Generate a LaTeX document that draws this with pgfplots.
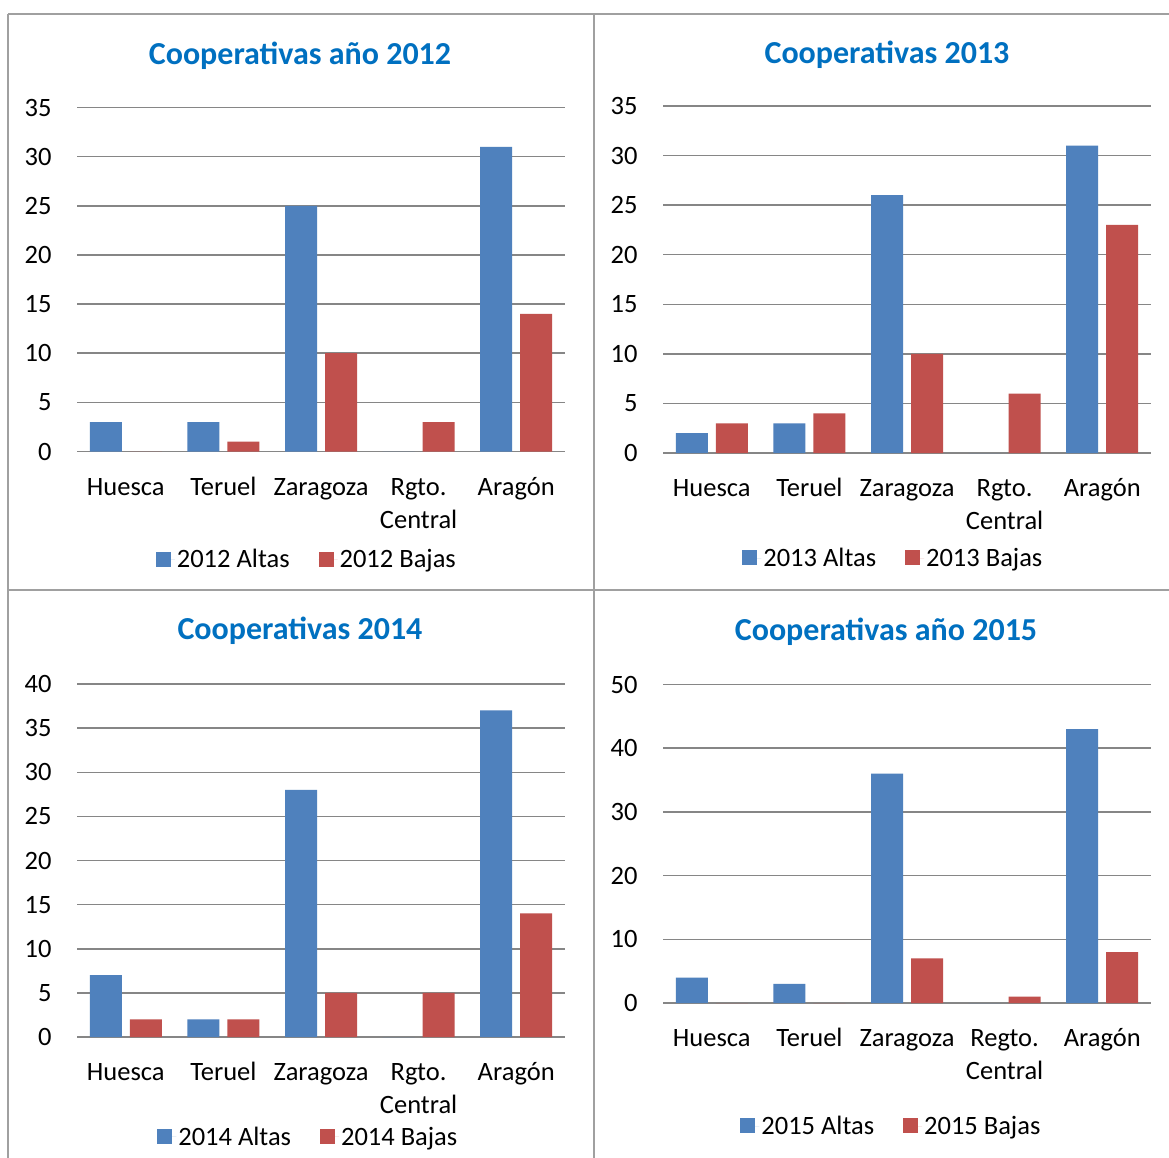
\documentclass[border=0pt]{standalone}
\usepackage{fontspec}
\setmainfont{Carlito}
\usepackage{pgfplots}
\pgfplotsset{compat=1.18}
\definecolor{titleblue}{HTML}{0070C0}
\definecolor{barblue}{HTML}{4F81BD}
\definecolor{barred}{HTML}{C0504D}
\definecolor{gridgray}{RGB}{134,134,134}
\definecolor{boxgray}{RGB}{160,160,160}
\pgfplotsset{
  coopstyle/.style={
    scale only axis, width=488pt,
    ybar=8pt, bar width=32pt,
    xmin=-0.5, xmax=4.5, ymin=0,
    enlargelimits=false,
    axis line style={draw=none},
    tick style={draw=none},
    ymajorgrids, grid style={gridgray, line width=1.5pt},
    xtick={0,1,2,3,4},
    xticklabel style={align=center, font=\fontsize{26.5}{33}\selectfont, yshift=-13pt},
    yticklabel style={font=\fontsize{26.5}{30}\selectfont, xshift=-22pt},
    /pgf/number format/assume math mode=true,
    legend columns=2,
    legend style={draw=none, fill=none, anchor=center, font=\fontsize{26.5}{30}\selectfont,
      /tikz/every even column/.append style={column sep=27pt}},
    legend image code/.code={\fill[##1,draw=none] (0pt,-7pt) rectangle (15pt,8pt);
      \path (0pt,0pt) -- (19pt,0pt);},
  },
  altas/.style={fill=barblue, draw=none},
  bajas/.style={fill=barred, draw=none},
}
\begin{document}
\begin{tikzpicture}[x=1pt,y=1pt]
\fill[white] (0,0) rectangle (1169,-1158);
\useasboundingbox (0,0) rectangle (1169,-1158);
% panel borders
\draw[boxgray, line width=2pt] (8,-14) -- (1169,-14);
\draw[boxgray, line width=2pt] (8,-590) -- (1169,-590);
\draw[boxgray, line width=2pt] (8,-14) -- (8,-1158);
\draw[boxgray, line width=2pt] (594,-14) -- (594,-1158);
% titles
\node[font=\bfseries\fontsize{32}{38}\selectfont, text=titleblue] at (300,-56) {Cooperativas año 2012};
\node[font=\bfseries\fontsize{32}{38}\selectfont, text=titleblue] at (887,-55) {Cooperativas 2013};
\node[font=\bfseries\fontsize{32}{38}\selectfont, text=titleblue] at (300,-631) {Cooperativas 2014};
\node[font=\bfseries\fontsize{32}{38}\selectfont, text=titleblue] at (886,-632) {Cooperativas año 2015};

% 2012
\begin{axis}[coopstyle, at={(77pt,-451.5pt)}, anchor=south west, height=344pt,
  ymax=35, ytick={0,5,...,35},
  xticklabels={\strut Huesca,\strut Teruel,\strut Zaragoza,{\strut Rgto.\\Central},\strut Aragón},
  legend style={at={(0.471,-0.314)}}]
\addplot[altas] coordinates {(0,3) (1,3) (2,25) (3,0) (4,31)};
\addplot[bajas] coordinates {(0,0) (1,1) (2,10) (3,3) (4,14)};
\legend{2012 Altas,2012 Bajas}
\end{axis}

% 2013
\begin{axis}[coopstyle, at={(663pt,-453pt)}, anchor=south west, height=347pt,
  ymax=35, ytick={0,5,...,35},
  xticklabels={\strut Huesca,\strut Teruel,\strut Zaragoza,{\strut Rgto.\\Central},\strut Aragón},
  legend style={at={(0.472,-0.303)}}]
\addplot[altas] coordinates {(0,2) (1,3) (2,26) (3,0) (4,31)};
\addplot[bajas] coordinates {(0,3) (1,4) (2,10) (3,6) (4,23)};
\legend{2013 Altas,2013 Bajas}
\end{axis}

% 2014
\begin{axis}[coopstyle, at={(77pt,-1037pt)}, anchor=south west, height=353pt,
  ymax=40, ytick={0,5,...,40},
  xticklabels={\strut Huesca,\strut Teruel,\strut Zaragoza,{\strut Rgto.\\Central},\strut Aragón},
  legend style={at={(0.474,-0.283)}}]
\addplot[altas] coordinates {(0,7) (1,2) (2,28) (3,0) (4,37)};
\addplot[bajas] coordinates {(0,2) (1,2) (2,5) (3,5) (4,14)};
\legend{2014 Altas,2014 Bajas}
\end{axis}

% 2015
\begin{axis}[coopstyle, at={(663pt,-1003pt)}, anchor=south west, height=318.5pt,
  ymax=50, ytick={0,10,...,50},
  xticklabels={\strut Huesca,\strut Teruel,\strut Zaragoza,{\strut Regto.\\Central},\strut Aragón},
  legend style={at={(0.468,-0.387)}}]
\addplot[altas] coordinates {(0,4) (1,3) (2,36) (3,0) (4,43)};
\addplot[bajas] coordinates {(0,0) (1,0) (2,7) (3,1) (4,8)};
\legend{2015 Altas,2015 Bajas}
\end{axis}
\end{tikzpicture}
\end{document}
